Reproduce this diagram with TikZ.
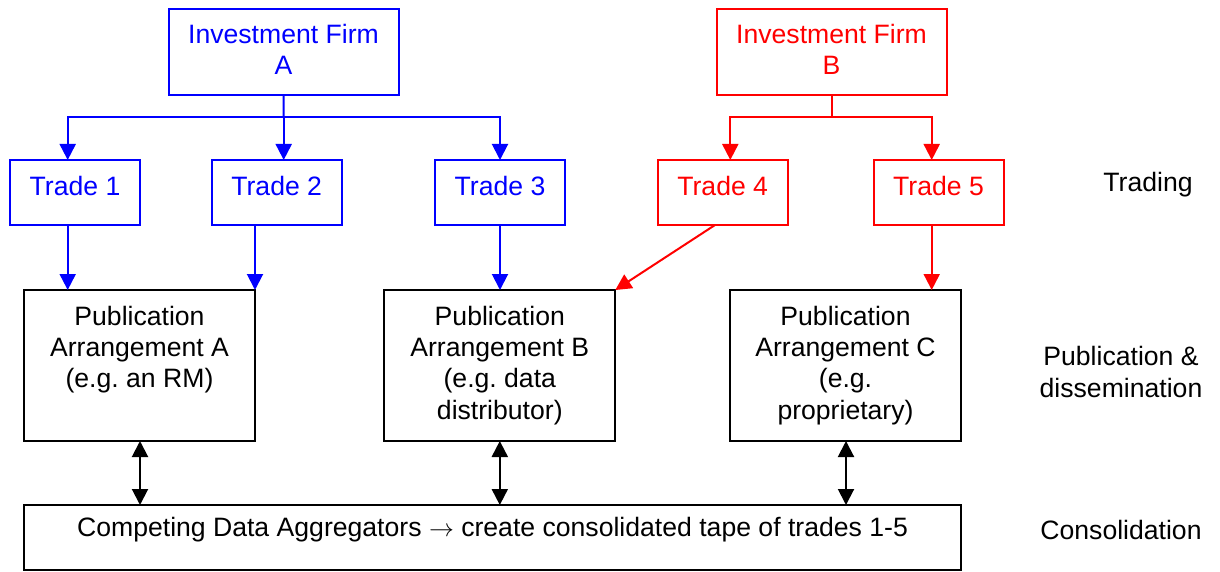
\documentclass[tikz,border=0pt]{standalone}
\usepackage{fontspec}
\setmainfont{Liberation Sans}
\usetikzlibrary{arrows.meta}
\definecolor{firmblue}{RGB}{0,0,255}
\definecolor{firmred}{RGB}{255,0,0}
\frenchspacing
\begin{document}
\begin{tikzpicture}[x=1pt,y=-1pt,
  every node/.style={inner sep=0pt,outer sep=0pt},
  txt/.style={font=\fontsize{26.6}{31.3}\selectfont,align=center},
  firmbox/.style={draw,line width=2pt,txt,minimum width=230pt,minimum height=86pt,text depth=6pt},
  tradebox/.style={draw,line width=2pt,txt,minimum width=130pt,minimum height=65pt,text height=19pt,text depth=12pt},
  pubbox/.style={draw,line width=2pt,minimum width=231pt,minimum height=151pt},
  blueflow/.style={firmblue,line width=2pt,-{Triangle[width=16pt,length=16pt]}},
  redflow/.style={firmred,line width=2pt,-{Triangle[width=16pt,length=16pt]}},
  linkflow/.style={black,line width=2pt,{Triangle[width=16pt,length=16pt]}-{Triangle[width=16pt,length=16pt]}},
  stage/.style={txt}]
\useasboundingbox (0,0) rectangle (1220,572);

% investment firms
\node[firmbox,firmblue] (firmA) at (283.5,52.3) {Investment Firm\\A};
\node[firmbox,firmred]  (firmB) at (831.5,52.3) {Investment Firm\\B};

% trades
\node[tradebox,firmblue] (trade1) at (75,192.5)   {Trade 1};
\node[tradebox,firmblue] (trade2) at (276.7,192.5) {Trade 2};
\node[tradebox,firmblue] (trade3) at (500,192.5)  {Trade 3};
\node[tradebox,firmred]  (trade4) at (722.7,192.5) {Trade 4};
\node[tradebox,firmred]  (trade5) at (938.5,192.5) {Trade 5};

% publication arrangements
\node[pubbox] (pubA) at (139.5,365.5) {};
\node[pubbox] (pubB) at (499.8,365.5) {};
\node[pubbox] (pubC) at (845.5,365.5) {};
\node[txt,anchor=north] (pubAt) at ([yshift=-16pt]pubA.north) {Publication\\Arrangement A\\(e.g. an RM)};
\node[txt,anchor=north] (pubBt) at ([yshift=-16pt]pubB.north) {Publication\\Arrangement B\\(e.g. data\\distributor)};
\node[txt,anchor=north] (pubCt) at ([yshift=-16pt]pubC.north) {Publication\\Arrangement C\\(e.g.\\proprietary)};

% consolidation
\node[draw,line width=2pt,minimum width=937pt,minimum height=65pt] (cons) at (492.5,537.5) {};
\node[txt] (const) at (492.5,530) {Competing Data Aggregators $\rightarrow$ create consolidated tape of trades 1-5};

% stage labels
\node[stage] (lblTrading) at (1148,185) {Trading};
\node[stage] (lblPub) at (1121,372) {Publication \&\\dissemination};
\node[stage] (lblCons) at (1121,530) {Consolidation};

% firm A to its trades
\coordinate (busA) at (283.7,117);
\draw[firmblue,line width=2pt] (firmA.south) -- (busA);
\draw[blueflow] (busA) -| ([xshift=-7.3pt]trade1.north);
\draw[blueflow] (busA) -- ([xshift=7pt]trade2.north);
\draw[blueflow] (busA) -| (trade3.north);

% firm B to its trades
\coordinate (busB) at (831.5,117);
\draw[firmred,line width=2pt] (firmB.south) -- (busB);
\draw[redflow] (busB) -| ([xshift=7.6pt]trade4.north);
\draw[redflow] (busB) -| ([xshift=-6.8pt]trade5.north);

% trades to publication arrangements
\draw[blueflow] ([xshift=-7.3pt]trade1.south) -- ([xshift=-7.3pt]trade1.south |- pubA.north);
\draw[blueflow] (pubA.north east |- trade2.south) -- (pubA.north east);
\draw[blueflow] (trade3.south) -- (trade3.south |- pubB.north);
\draw[redflow] ([xshift=-7.7pt]trade4.south) -- (pubB.north east);
\draw[redflow] ([xshift=-6.8pt]trade5.south) -- ([xshift=-6.8pt]trade5.south |- pubC.north);

% publication arrangements to aggregators
\draw[linkflow] ([xshift=0.5pt]pubA.south) -- ([xshift=0.5pt]pubA.south |- cons.north);
\draw[linkflow] (pubB.south) -- (pubB.south |- cons.north);
\draw[linkflow] ([xshift=0.5pt]pubC.south) -- ([xshift=0.5pt]pubC.south |- cons.north);
\end{tikzpicture}
\end{document}
